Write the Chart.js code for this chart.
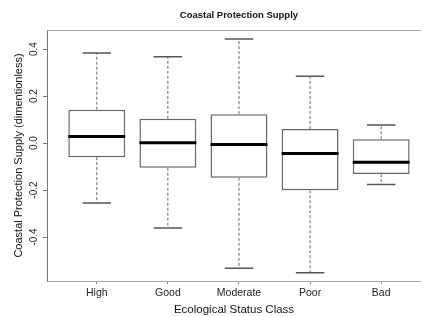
<!DOCTYPE html>
<html>
<head>
<meta charset="utf-8">
<script src="https://cdn.jsdelivr.net/npm/chart.js@4/dist/chart.umd.min.js"></script>
<style>
html,body{margin:0;padding:0;background:#fff;overflow:hidden;}
#wrap{width:421px;height:317px;position:relative;}
</style>
</head>
<body>
<div id="wrap"><canvas id="c" width="421" height="317"></canvas></div>
<script>
// ---- data ----
const categories = ["High", "Good", "Moderate", "Poor", "Bad"];
const whiskerHigh = [0.383, 0.367, 0.443, 0.284, 0.077];
const q3Values    = [0.142, 0.103, 0.123, 0.060, 0.016];
const medians     = [0.028, 0.001, -0.006, -0.044, -0.082];
const q1Values    = [-0.060, -0.105, -0.148, -0.201, -0.132];
const whiskerLow  = [-0.255, -0.362, -0.533, -0.552, -0.176];
const yTickValues = [-0.4, -0.2, 0.0, 0.2, 0.4];

const chartTitle = "Coastal Protection Supply";
const xTitle = "Ecological Status Class";
const yTitle = "Coastal Protection Supply (dimentionless)";

const FONT = "'Liberation Sans', Arial, sans-serif";

const boxData = categories.map((c, i) => ({ x: i + 1, y: [q1Values[i], q3Values[i]] }));

const boxPlugin = {
  id: 'boxExtras',
  afterDatasetsDraw(chart) {
    const ctx = chart.ctx;
    const xs = chart.scales.x, ys = chart.scales.y;
    const meta = chart.getDatasetMeta(0);
    ctx.save();
    categories.forEach((c, i) => {
      const bar = meta.data[i];
      const half = bar.width / 2;
      const cx = xs.getPixelForValue(i + 1);
      const capHalf = half / 2;
      // dashed whiskers
      ctx.strokeStyle = '#666';
      ctx.lineWidth = 1;
      ctx.setLineDash([3, 2]);
      ctx.beginPath();
      ctx.moveTo(cx, ys.getPixelForValue(q3Values[i]));
      ctx.lineTo(cx, ys.getPixelForValue(whiskerHigh[i]));
      ctx.moveTo(cx, ys.getPixelForValue(q1Values[i]));
      ctx.lineTo(cx, ys.getPixelForValue(whiskerLow[i]));
      ctx.stroke();
      // caps
      ctx.setLineDash([]);
      ctx.lineWidth = 1.5;
      ctx.strokeStyle = '#555';
      ctx.beginPath();
      const yh = ys.getPixelForValue(whiskerHigh[i]);
      const yl = ys.getPixelForValue(whiskerLow[i]);
      ctx.moveTo(cx - capHalf, yh); ctx.lineTo(cx + capHalf, yh);
      ctx.moveTo(cx - capHalf, yl); ctx.lineTo(cx + capHalf, yl);
      ctx.stroke();
      // median
      ctx.strokeStyle = '#000';
      ctx.lineWidth = 3;
      ctx.beginPath();
      const ym = ys.getPixelForValue(medians[i]);
      ctx.moveTo(cx - half, ym); ctx.lineTo(cx + half, ym);
      ctx.stroke();
    });
    // top frame line
    const a = chart.chartArea;
    ctx.strokeStyle = '#aaa';
    ctx.lineWidth = 1;
    ctx.beginPath();
    ctx.moveTo(a.left, a.top + 0.5); ctx.lineTo(a.right, a.top + 0.5);
    ctx.stroke();
    // title, centred over the middle category as in the reference
    ctx.fillStyle = '#111';
    ctx.font = "bold 9.5px " + FONT;
    ctx.textAlign = 'center';
    ctx.textBaseline = 'middle';
    ctx.fillText(chartTitle, xs.getPixelForValue(3), 15);
    ctx.restore();
  }
};

new Chart(document.getElementById('c'), {
  type: 'bar',
  data: {
    datasets: [{
      data: boxData,
      backgroundColor: '#fff',
      borderColor: '#666',
      borderWidth: 1.5,
      borderSkipped: false,
      categoryPercentage: 0.8,
      barPercentage: 1.0
    }]
  },
  options: {
    responsive: false,
    animation: false,
    layout: { padding: { top: 30, right: 0, left: 0, bottom: 0 } },
    plugins: { legend: { display: false }, tooltip: { enabled: false }, title: { display: false } },
    scales: {
      x: {
        type: 'linear',
        offset: false,
        min: 0.3, max: 5.56,
        afterBuildTicks: s => { s.ticks = categories.map((c, i) => ({ value: i + 1 })); },
        afterFit: s => { s.height = 36; },
        ticks: {
          callback: v => categories[v - 1] || '',
          font: { family: FONT, size: 10.5 }, color: '#222',
          padding: 3, maxRotation: 0, autoSkip: false
        },
        grid: { offset: false, drawOnChartArea: false, drawTicks: true, tickLength: 3, color: '#888' },
        border: { display: true, color: '#aaa', width: 1 },
        title: { display: true, text: xTitle, font: { family: FONT, size: 11.5 }, color: '#111', padding: { top: 0, bottom: 0 } }
      },
      y: {
        min: -0.587, max: 0.481,
        afterBuildTicks: s => { s.ticks = yTickValues.map(v => ({ value: v })); },
        afterFit: s => { s.width = 47; },
        ticks: {
          callback: v => (Math.abs(v) < 1e-9 ? 0 : v).toFixed(1),
          font: { family: FONT, size: 10 }, color: '#222',
          minRotation: 90, maxRotation: 90, padding: 0, crossAlign: 'center'
        },
        grid: { drawOnChartArea: false, drawTicks: true, tickLength: 4, color: '#777' },
        border: { display: true, color: '#777', width: 1 },
        title: { display: true, text: yTitle, font: { family: FONT, size: 11 }, color: '#111', padding: { top: 12, bottom: 0 } }
      }
    }
  },
  plugins: [boxPlugin]
});
</script>
</body>
</html>
